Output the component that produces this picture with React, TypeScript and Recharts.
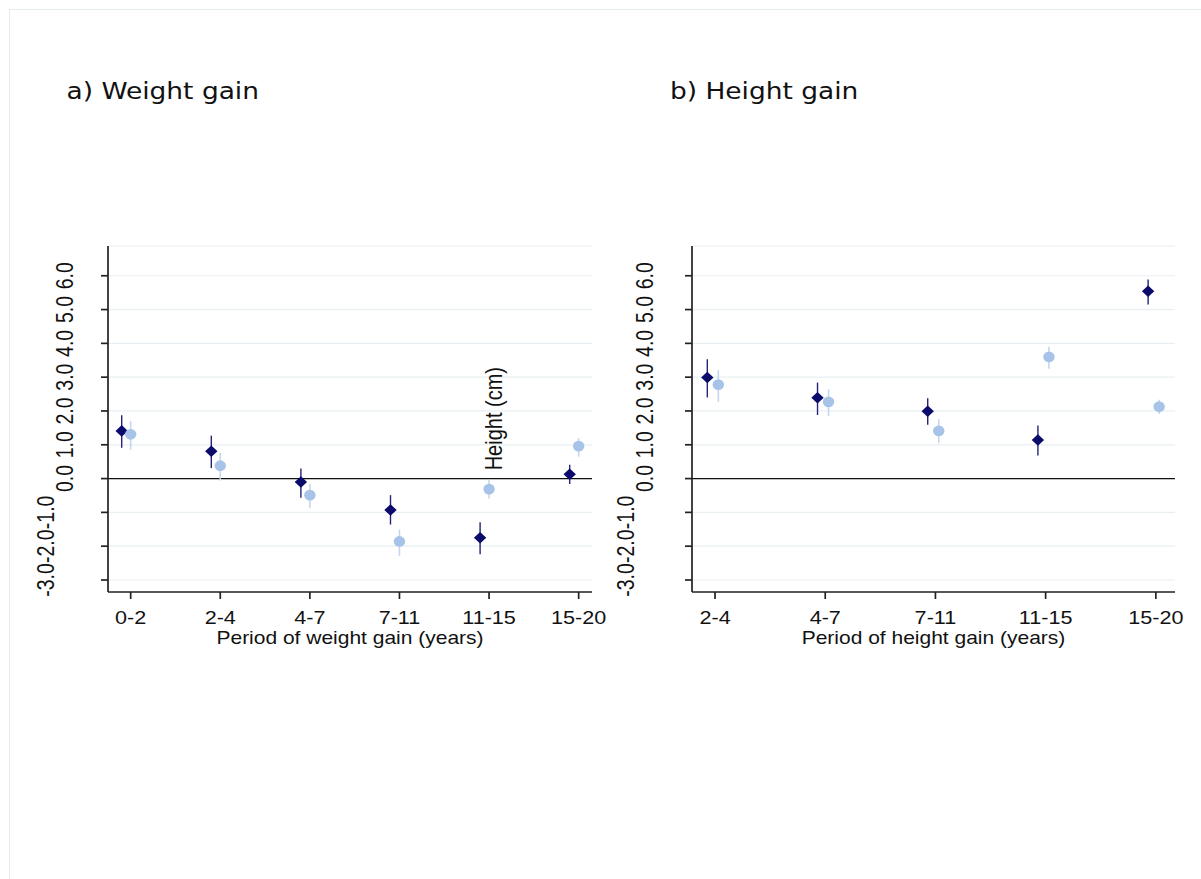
import React from 'react'
import {
  ComposedChart,
  Scatter,
  ErrorBar,
  XAxis,
  YAxis,
  CartesianGrid,
  ReferenceLine,
} from 'recharts'

// weight gain panel
const weightPeriods = ['0-2', '2-4', '4-7', '7-11', '11-15', '15-20']
const weightDiamond = [1.41, 0.81, -0.1, -0.93, -1.75, 0.13]
const weightDiamondLo = [0.91, 0.31, -0.57, -1.36, -2.24, -0.16]
const weightDiamondHi = [1.87, 1.27, 0.3, -0.49, -1.29, 0.41]
const weightCircle = [1.31, 0.38, -0.49, -1.86, -0.31, 0.96]
const weightCircleLo = [0.85, -0.06, -0.87, -2.29, -0.59, 0.65]
const weightCircleHi = [1.7, 0.76, -0.15, -1.51, -0.03, 1.2]

// height gain panel
const heightPeriods = ['2-4', '4-7', '7-11', '11-15', '15-20']
const heightDiamond = [2.99, 2.39, 1.99, 1.14, 5.54]
const heightDiamondLo = [2.4, 1.88, 1.59, 0.68, 5.15]
const heightDiamondHi = [3.53, 2.84, 2.38, 1.57, 5.89]
const heightCircle = [2.78, 2.27, 1.41, 3.6, 2.13]
const heightCircleLo = [2.27, 1.85, 1.05, 3.25, 1.91]
const heightCircleHi = [3.21, 2.64, 1.76, 3.9, 2.33]

const yTicks = [-3, -2, -1, 0, 1, 2, 3, 4, 5, 6]

const NAVY = '#0b0b6b'
const NAVY_CI = '#23237a'
const LIGHT = '#a7c4e8'
const LIGHT_CI = '#c3d7ef'
const AXIS = '#222'
const SANS = '"Liberation Sans", Arial, sans-serif'

function points(values: number[], lo: number[], hi: number[], shift: number) {
  return values.map((v, i) => ({
    x: i + shift,
    y: v,
    err: [v - lo[i], hi[i] - v],
  }))
}

const Diamond = (props: any) => {
  const { cx, cy } = props
  if (cx == null || cy == null) return null
  return (
    <path
      d={`M${cx},${cy - 5.8} L${cx + 6.2},${cy} L${cx},${cy + 5.8} L${cx - 6.2},${cy} Z`}
      fill={NAVY}
    />
  )
}

const Dot = (props: any) => {
  const { cx, cy } = props
  if (cx == null || cy == null) return null
  return <ellipse cx={cx} cy={cy} rx={5.7} ry={5.4} fill={LIGHT} />
}

const makeYTick = (posX: number, negX: number) => (props: any) => {
  const { y, payload } = props
  const v = payload.value as number
  const bx = v < 0 ? negX : posX
  return (
    <text
      transform={`translate(${bx},${y}) scale(1.2,1) rotate(-90)`}
      textAnchor="middle"
      fontFamily={SANS}
      fontSize={19.5}
      fill="#111"
    >
      {v.toFixed(1)}
    </text>
  )
}

const makeXTick = (labels: string[]) => (props: any) => {
  const { x, y, payload } = props
  return (
    <text
      transform={`translate(${x},${y + 22.5}) scale(1.2,1)`}
      textAnchor="middle"
      fontFamily={SANS}
      fontSize={18}
      fill="#111"
    >
      {labels[payload.value]}
    </text>
  )
}

const AxisTitle = (props: any) => {
  const { viewBox, text } = props
  if (!viewBox) return null
  return (
    <text
      transform={`translate(${viewBox.x + viewBox.width / 2},${viewBox.y + 52}) scale(1.2,1)`}
      textAnchor="middle"
      fontFamily={SANS}
      fontSize={17.5}
      fill="#111"
    >
      {text}
    </text>
  )
}

interface PanelProps {
  left: number
  labels: string[]
  xDomain: [number, number]
  diamonds: { x: number; y: number; err: number[] }[]
  circles: { x: number; y: number; err: number[] }[]
  title: string
  tickPos: [number, number]
  marginRight: number
}

function Panel(props: PanelProps) {
  return (
    <div style={{ position: 'absolute', left: props.left, top: 0 }}>
      <ComposedChart
        width={640}
        height={660}
        margin={{ top: 246, right: props.marginRight, left: 0, bottom: 0 }}
      >
        <CartesianGrid vertical={false} stroke="#e8eff2" strokeWidth={1.2} />
        <XAxis
          type="number"
          dataKey="x"
          domain={props.xDomain}
          allowDataOverflow
          ticks={props.labels.map((_, i) => i)}
          interval={0}
          height={68}
          tickSize={7}
          axisLine={{ stroke: AXIS, strokeWidth: 1.7 }}
          tickLine={{ stroke: AXIS, strokeWidth: 1.7 }}
          tick={makeXTick(props.labels)}
          label={<AxisTitle text={props.title} />}
        />
        <YAxis
          type="number"
          dataKey="y"
          domain={[-3.355, 6.88]}
          allowDataOverflow
          ticks={yTicks}
          interval={0}
          width={108}
          tickSize={7}
          axisLine={{ stroke: AXIS, strokeWidth: 1.7 }}
          tickLine={{ stroke: AXIS, strokeWidth: 1.7 }}
          tick={makeYTick(props.tickPos[0], props.tickPos[1])}
        />
        <ReferenceLine y={0} stroke="#111" strokeWidth={1.4} />
        <Scatter data={props.diamonds} shape={Diamond} isAnimationActive={false}>
          <ErrorBar
            dataKey="err"
            direction="y"
            width={0}
            stroke={NAVY_CI}
            strokeWidth={1.4}
            isAnimationActive={false}
          />
        </Scatter>
        <Scatter data={props.circles} shape={Dot} isAnimationActive={false}>
          <ErrorBar
            dataKey="err"
            direction="y"
            width={0}
            stroke={LIGHT_CI}
            strokeWidth={1.6}
            isAnimationActive={false}
          />
        </Scatter>
      </ComposedChart>
    </div>
  )
}

export default function App() {
  return (
    <div
      style={{
        position: 'absolute',
        left: 0,
        top: 0,
        width: 1201,
        height: 879,
        overflow: 'hidden',
        background: '#fff',
      }}
    >
      <div
        style={{
          position: 'absolute',
          left: 9,
          top: 9,
          width: 1200,
          height: 880,
          border: '1px solid #e4ebee',
        }}
      />
      <Panel
        left={0}
        labels={weightPeriods}
        xDomain={[-0.253, 5.149]}
        diamonds={points(weightDiamond, weightDiamondLo, weightDiamondHi, -0.1)}
        circles={points(weightCircle, weightCircleLo, weightCircleHi, 0)}
        title="Period of weight gain (years)"
        tickPos={[73, 54]}
        marginRight={48}
      />
      <Panel
        left={584}
        labels={heightPeriods}
        xDomain={[-0.209, 4.174]}
        diamonds={points(heightDiamond, heightDiamondLo, heightDiamondHi, -0.07)}
        circles={points(heightCircle, heightCircleLo, heightCircleHi, 0.03)}
        title="Period of height gain (years)"
        tickPos={[69, 50]}
        marginRight={49}
      />
      <svg
        width={1201}
        height={879}
        style={{ position: 'absolute', left: 0, top: 0, pointerEvents: 'none' }}
      >
        <text
          transform="translate(66.5,99) scale(1.15,1)"
          fontFamily='"DejaVu Sans", Verdana, sans-serif'
          fontSize={23}
          fill="#111"
        >
          a) Weight gain
        </text>
        <text
          transform="translate(670,99) scale(1.15,1)"
          fontFamily='"DejaVu Sans", Verdana, sans-serif'
          fontSize={23}
          fill="#111"
        >
          b) Height gain
        </text>
        <text
          transform="translate(502,418.7) scale(1.2,1) rotate(-90)"
          textAnchor="middle"
          fontFamily={SANS}
          fontSize={20}
          fill="#111"
        >
          Height (cm)
        </text>
      </svg>
    </div>
  )
}
